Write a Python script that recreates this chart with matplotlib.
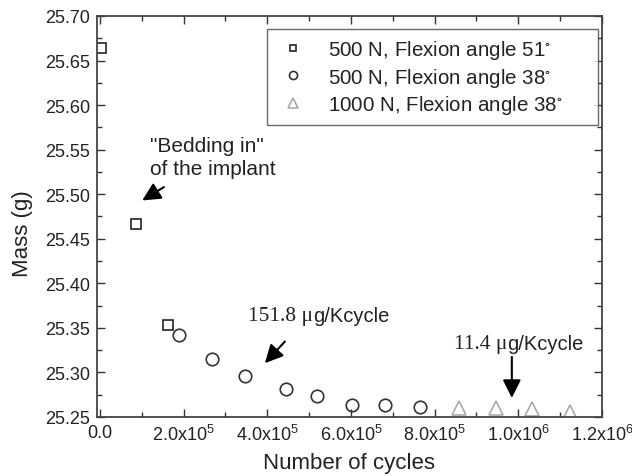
import numpy as np
import matplotlib
matplotlib.use("Agg")
import matplotlib.pyplot as plt
from matplotlib.ticker import MultipleLocator, FixedLocator, FormatStrFormatter

plt.rcParams['font.family'] = ['Liberation Sans', 'DejaVu Sans']
plt.rcParams['mathtext.default'] = 'regular'

# --------- data ---------
sq_x = [2000, 86000, 161800]
sq_y = [25.664, 25.467, 25.353]

ci_x = [188800, 268300, 346500, 443700, 518600, 601500, 681000, 764700]
ci_y = [25.342, 25.315, 25.296, 25.281, 25.273, 25.264, 25.263, 25.261]

tr_x = [858600, 945600, 1033000, 1123000]
tr_y = [25.260, 25.260, 25.259, 25.256]

labels = ["500 N, Flexion angle 51$^{\\circ}$",
          "500 N, Flexion angle 38$^{\\circ}$",
          "1000 N, Flexion angle 38$^{\\circ}$"]

xticks = [0, 2e5, 4e5, 6e5, 8e5, 1e6, 1.2e6]
xticklabels = ["0.0", "2.0x10$^5$", "4.0x10$^5$", "6.0x10$^5$",
               "8.0x10$^5$", "1.0x10$^6$", "1.2x10$^6$"]

fig = plt.figure(figsize=(6.32, 4.77), dpi=100)
ax = fig.add_axes([0.1535, 0.1237, 0.799, 0.8407])

ax.plot(sq_x, sq_y, ls="none", marker="s", ms=7.5, mfc="none", mec="#222222", mew=1.2, label=labels[0])
ax.plot(ci_x, ci_y, ls="none", marker="o", ms=9, mfc="none", mec="#333333", mew=1.2, label=labels[1])
ax.plot(tr_x, tr_y, ls="none", marker="^", ms=10, mfc="none", mec="#aaaaaa", mew=1.2, label=labels[2])

ax.set_xlim(-7000, 1.2e6)
ax.set_ylim(25.25, 25.70)
ax.xaxis.set_major_locator(FixedLocator(xticks))
ax.set_xticklabels(xticklabels)
ax.xaxis.set_minor_locator(MultipleLocator(1e5))
ax.yaxis.set_major_locator(MultipleLocator(0.05))
ax.yaxis.set_minor_locator(MultipleLocator(0.025))
ax.yaxis.set_major_formatter(FormatStrFormatter("%.2f"))

ax.tick_params(which="both", direction="in", top=True, right=True, colors="#333333", labelcolor="#222222")
ax.tick_params(which="major", length=6, width=1.0, labelsize=13)
ax.tick_params(which="minor", length=3.5, width=1.0)
ax.tick_params(axis="x", pad=5)
ax.tick_params(axis="y", pad=5)
for s in ax.spines.values():
    s.set_color("#444444")
    s.set_linewidth(1.3)

ax.set_xlabel("Number of cycles", fontsize=16, color="#222222", labelpad=6)
ax.set_ylabel("Mass (g)", fontsize=16, color="#222222")
ax.yaxis.set_label_coords(-0.127, 0.461)

leg = ax.legend(loc="upper left", bbox_to_anchor=(0.3366, 0.5, 0.655, 0.468), mode="expand",
                borderaxespad=0, fontsize=14.8, frameon=True, fancybox=False, edgecolor="#444444",
                handletextpad=0.9, borderpad=0.45, labelspacing=0.22, handlelength=1.6,
                markerscale=0.65)
leg.get_frame().set_linewidth(1.0)
for t in leg.get_texts():
    t.set_color("#222222")

# --------- annotations ---------
arw = dict(arrowstyle="-|>,head_length=1.1,head_width=0.55", color="black", lw=1.5,
           shrinkA=0, shrinkB=0)
ax.text(119500, 25.542, "\"Bedding in\"\nof the implant", fontsize=15, color="#222222",
        va="center", ha="left", linespacing=1.3)
ax.annotate("", xy=(101100, 25.493), xytext=(152900, 25.508), arrowprops=arw)

# number + mu in serif, unit in sans
t1 = ax.text(353600, 25.3636, "151.8 \u03bc", fontsize=15.5, family="Liberation Serif",
             color="#222222", va="center", ha="left")
ax.annotate("g/Kcycle", xy=(1, 0), xycoords=t1, va="bottom", ha="left", fontsize=14.5,
            color="#222222")
ax.annotate("", xy=(394300, 25.3104), xytext=(442100, 25.3347), arrowprops=arw)

t2 = ax.text(845900, 25.332, "11.4 \u03bc", fontsize=15.5, family="Liberation Serif",
             color="#222222", va="center", ha="left")
ax.annotate("g/Kcycle", xy=(1, 0), xycoords=t2, va="bottom", ha="left", fontsize=14.5,
            color="#222222")
ax.annotate("", xy=(984500, 25.2714), xytext=(984500, 25.3175), arrowprops=arw)

fig.savefig("out.png", dpi=100)
